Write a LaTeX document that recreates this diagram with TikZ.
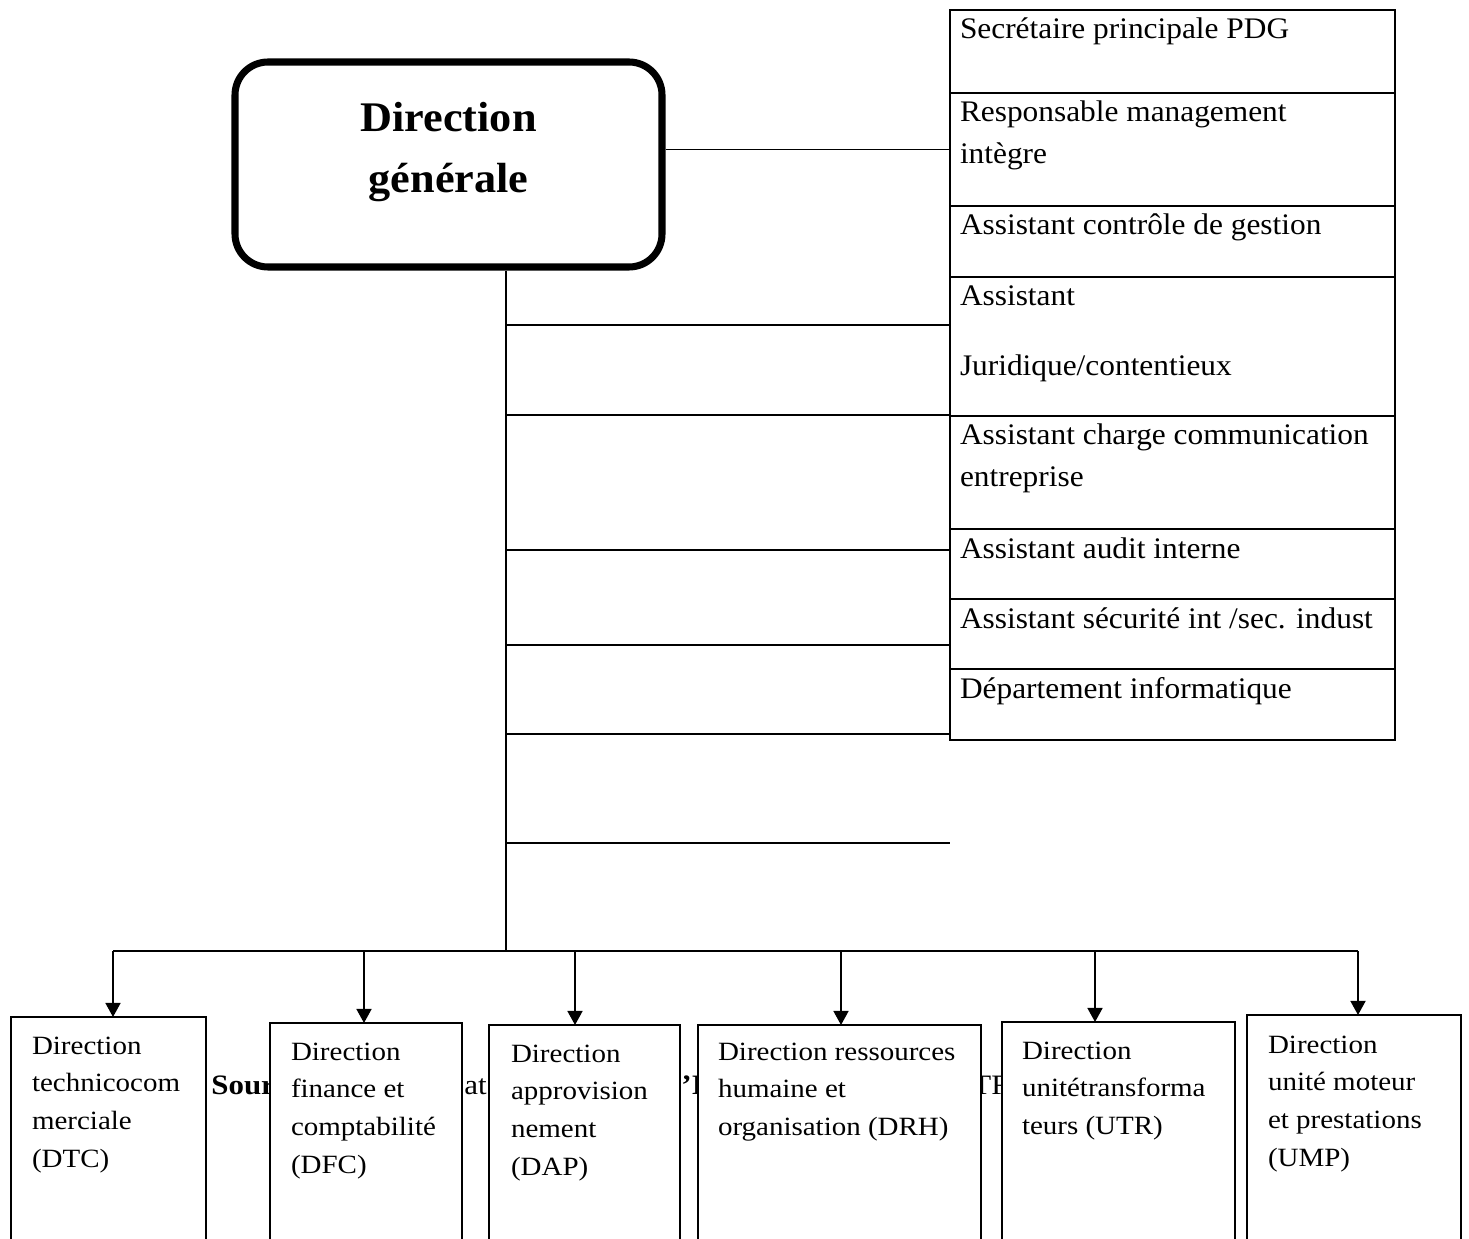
\documentclass[tikz,border=0pt]{standalone}
\usepackage{fontspec}
\setmainfont{Liberation Serif}[FakeStretch=1.05]
\newfontfamily\boxfont{Liberation Serif}[FakeStretch=1.1]
\usetikzlibrary{positioning,arrows.meta}
\newlength{\pxu}
\setlength{\pxu}{0.02cm}
% width, height, left pad, first baseline, text
\newcommand{\inbox}[5]{\parbox[t][#2\pxu][t]{#1\pxu}{\raggedright\leftskip=#3\pxu\rule{0pt}{#4\pxu}#5}}
\tikzset{
  post/.style={draw, line width=1.1pt, inner sep=0pt, outer sep=0pt, anchor=north west, font=\fontsize{17}{23.8}\selectfont},
  dirbox/.style={draw, fill=white, line width=1.5pt, inner sep=0pt, outer sep=0pt, anchor=north west, font=\boxfont\fontsize{15}{21.5}\selectfont},
  link/.style={line width=0.9pt},
  arrowdown/.style={line width=1.1pt, -{Triangle[length=8pt,width=8.5pt]}},
  frag/.style={inner sep=0pt, anchor=base west, font=\boxfont\fontsize{16}{18}\selectfont}
}

\begin{document}
\begin{tikzpicture}[x=0.02cm, y=-0.02cm]
\useasboundingbox (0,0) rectangle (1469,1239);
\clip (0,0) rectangle (1469,1239);

% direction generale
\node[draw, line width=4pt, rounded corners=0.66cm, inner sep=0pt, font=\fontsize{24}{34.6}\selectfont\bfseries] (dg) at (448.5,164.5)
  {\parbox[t][205\pxu][t]{427\pxu}{\centering\rule{0pt}{70\pxu}Direction\\générale}};

% postes rattaches
\node[post] (r1) at (950,10) {\inbox{445}{83}{10}{29}{Secrétaire principale PDG}};
\node[post] (r2) at (r1.south west) {\inbox{445}{113}{10}{29}{Responsable management\\intègre}};
\node[post] (r3) at (r2.south west) {\inbox{445}{71}{10}{29}{Assistant contrôle de gestion}};
\node[post] (r4) at (r3.south west) {\inbox{445}{139}{10}{29}{Assistant\\[28\pxu]Juridique/contentieux}};
\node[post] (r5) at (r4.south west) {\inbox{445}{113}{10}{29}{Assistant charge communication\\entreprise}};
\node[post] (r6) at (r5.south west) {\inbox{445}{70}{10}{29}{Assistant audit interne}};
\node[post] (r7) at (r6.south west) {\inbox{445}{70}{10}{29}{Assistant sécurité int /sec. indust}};
\node[post] (r8) at (r7.south west) {\inbox{445}{71}{10}{29}{Département informatique}};

% texte en partie cache
\node[frag] (s1) at (211,1094) {\textbf{Sour}};
\node[frag] (s2) at (464,1094) {at};
\node[frag] (s3) at (681,1094) {\textbf{’I}};
\node[frag] (s4) at (972,1094) {TR};

% directions
\node[dirbox] (d1) at (11,1017) {\inbox{195}{280}{21}{37}{Direction\\technicocom\\merciale\\(DTC)}};
\node[dirbox] (d2) at (270,1023) {\inbox{192}{280}{21}{37}{Direction\\finance et\\comptabilité\\(DFC)}};
\node[dirbox] (d3) at (489,1025) {\inbox{191}{280}{22}{37}{Direction\\approvision\\nement\\(DAP)}};
\node[dirbox] (d4) at (698,1025) {\inbox{283}{280}{20}{35}{Direction ressources\\humaine et\\organisation (DRH)}};
\node[dirbox] (d5) at (1002,1022) {\inbox{233}{280}{20}{37}{Direction\\unitétransforma\\teurs (UTR)}};
\node[dirbox] (d6) at (1247,1015) {\inbox{214}{280}{21}{38}{Direction\\unité moteur\\et prestations\\(UMP)}};

% liaisons
\coordinate (sp) at (506,951);
\draw[link] (dg.south -| sp) -- (sp);
\draw[link] (dg.east |- r2.west) -- (r2.west);
\foreach \y [count=\i] in {325,415,550,645,734,843}
  \coordinate (b\i) at (506,\y);
\foreach \i in {1,...,6}
  \draw[link] (b\i) -- (b\i -| r1.west);

\foreach \x [count=\i] in {113,364,575,841,1095,1358}
  \coordinate (a\i) at (\x,951);
\draw[line width=1.1pt] (a1) -- (a6);
\foreach \i in {1,...,6}
  \draw[arrowdown] (a\i) -- (a\i |- d\i.north);
\end{tikzpicture}
\end{document}
